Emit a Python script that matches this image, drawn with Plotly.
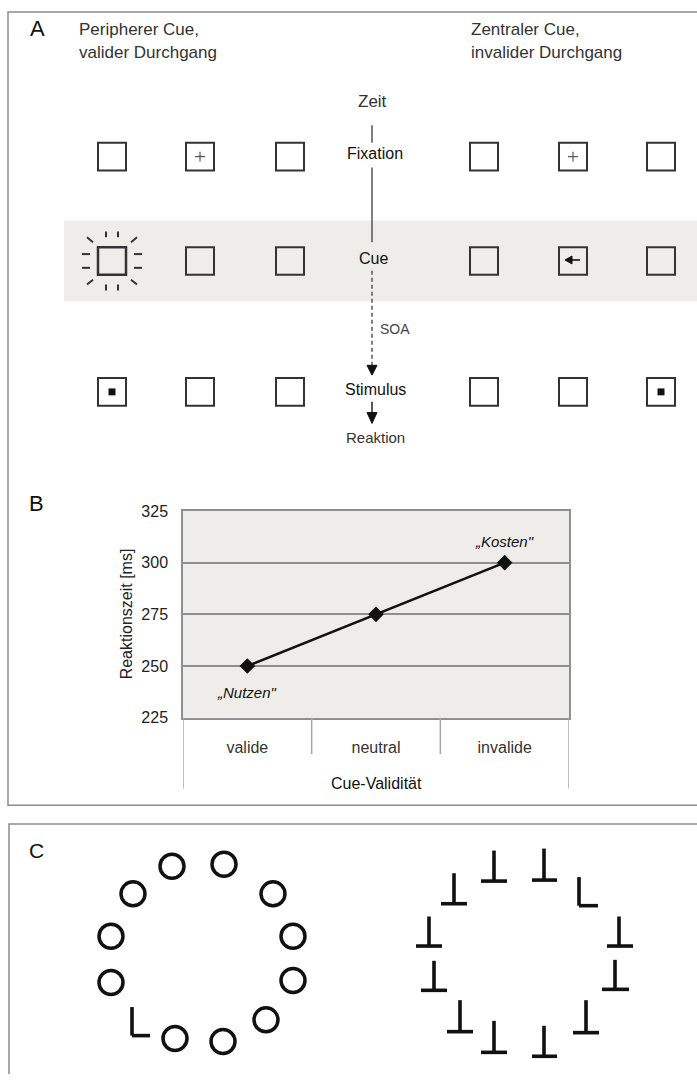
import plotly.graph_objects as go

W, H = 697, 1083

# ---------------- Panel B data ----------------
categories = ["valide", "neutral", "invalide"]
reaction_ms = [250, 275, 300]
y_tick_vals = [225, 250, 275, 300, 325]
y_tick_text = ["225", "250", "275", "300", "325"]
label_benefit = "„Nutzen\""
label_cost = "„Kosten\""
y_title = "Reaktionszeit [ms]"
x_title = "Cue-Validität"

# ---------------- Panel A texts ----------------
title_left = ["Peripherer Cue,", "valider Durchgang"]
title_right = ["Zentraler Cue,", "invalider Durchgang"]
stage_labels = ["Fixation", "Cue", "Stimulus"]

# ---------------- geometry (pixel canvas) ----------------
FONT = "Liberation Sans, Arial, sans-serif"
col_left = [112, 200, 290]
col_right = [484, 573, 661]
row_y = [151, 257, 390]
SQ = 28
TL_X = 372

# panel C geometry
circ_x = [172, 224, 133, 273, 111, 293, 111, 293, 175, 223, 266]
circ_y = [872, 870, 900, 900, 943, 943, 990, 988, 1047, 1050, 1028]
t_items = [(494, 856, 887, 481, 507), (544, 854, 886, 532, 557), (454, 879, 910, 441, 467),
           (429, 923, 953, 416, 442), (619, 923, 953, 607, 633), (434, 968, 998, 421, 447),
           (615, 967, 997, 602, 629), (460, 1008, 1040, 447, 473), (586, 1008, 1041, 573, 599),
           (494, 1029, 1061, 481, 507), (544, 1034, 1065, 532, 557), (579, 883, 912, 579, 598)]
l_left = (132, 1015, 1044, 132, 150)

PLOT_L, PLOT_R, PLOT_T, PLOT_B = 183, 569, 511, 721

fig = go.Figure()
shapes = []
annotations = []

def line(x0, y0, x1, y1, color="#333", width=2, dash=None, xref="x", yref="y", layer="above"):
    d = dict(type="line", x0=x0, y0=y0, x1=x1, y1=y1, xref=xref, yref=yref, layer=layer,
             line=dict(color=color, width=width))
    if dash:
        d["line"]["dash"] = dash
    shapes.append(d)

def rect(x0, y0, x1, y1, color="#333", width=2, fill="rgba(0,0,0,0)", layer="above", xref="x", yref="y"):
    shapes.append(dict(type="rect", x0=x0, y0=y0, x1=x1, y1=y1, xref=xref, yref=yref, layer=layer,
                       line=dict(color=color, width=width), fillcolor=fill))

def path(p, fill="#111", color="#111", width=1):
    shapes.append(dict(type="path", path=p, xref="x", yref="y", fillcolor=fill,
                       line=dict(color=color, width=width), layer="above"))

def text(x, y, s, size=16, color="#222", xanchor="center", yanchor="middle", italic=False, angle=0, xref="x", yref="y"):
    annotations.append(dict(x=x, y=y, xref=xref, yref=yref, text=s, showarrow=False, xanchor=xanchor,
                            yanchor=yanchor, textangle=angle,
                            font=dict(family=FONT, size=size, color=color,
                                      style="italic" if italic else "normal")))

# Frames
BOX_C = "#8c8c8c"
rect(8, 4, W + 10, 810, color=BOX_C, width=1.5)
rect(9, 829, W + 10, H + 10, color=BOX_C, width=1.5)

# gray band (cue row)
rect(64, 216, W + 10, 298, color="rgba(0,0,0,0)", width=0, fill="#eeede9", layer="below")

# Panel A labels
text(37, 21, "A", size=22, color="#111")
text(77, 22, title_left[0], size=17, xanchor="left", color="#333")
text(77, 45, title_left[1], size=17, xanchor="left", color="#333")
text(469, 22, title_right[0], size=17, xanchor="left", color="#333")
text(469, 45, title_right[1], size=17, xanchor="left", color="#333")
text(TL_X, 95, "Zeit", size=17, color="#333")

# squares
for ry in row_y:
    for cx in col_left + col_right:
        w = 2.5 if (ry == row_y[1] and cx == col_left[0]) else 2
        rect(cx - SQ / 2, ry - SQ / 2, cx + SQ / 2, ry + SQ / 2, color="#333", width=w)

# fixation crosses
for cx in (col_left[1], col_right[1]):
    line(cx - 5, row_y[0], cx + 5, row_y[0], color="#555", width=1.2)
    line(cx, row_y[0] - 5, cx, row_y[0] + 5, color="#555", width=1.2)

# peripheral cue rays
cx, cy = col_left[0], row_y[1]
for dx in (-6, 6):
    line(cx + dx, cy - 30, cx + dx, cy - 24, color="#333", width=2)
    line(cx + dx, cy + 24, cx + dx, cy + 30, color="#333", width=2)
for dy in (-7, 7):
    line(cx - 30, cy + dy, cx - 22, cy + dy, color="#333", width=2)
    line(cx + 22, cy + dy, cx + 30, cy + dy, color="#333", width=2)
for sx in (-1, 1):
    for sy in (-1, 1):
        line(cx + sx * 25, cy + sy * 24, cx + sx * 19, cy + sy * 19, color="#333", width=2)

# central cue arrow
ax, ay = col_right[1], row_y[1]
line(ax - 3, ay - 1, ax + 7, ay - 1, color="#111", width=1.6)
path(f"M {ax-8},{ay-1} L {ax-1},{ay-5} L {ax-1},{ay+3} Z")

# stimulus dots
for sx in (col_left[0], col_right[2]):
    rect(sx - 3.5, row_y[2] - 3.5, sx + 3.5, row_y[2] + 3.5, color="#111", width=0, fill="#111")

# timeline
line(TL_X, 119, TL_X, 137, color="#555", width=1.5)
line(TL_X, 162, TL_X, 238, color="#555", width=1.5)
line(TL_X, 267, TL_X, 364, color="#555", width=1.5, dash="4px,3px")
path(f"M {TL_X-5},{363} L {TL_X+5},{363} L {TL_X},{373} Z")
line(TL_X, 400, TL_X, 412, color="#222", width=1.5)
path(f"M {TL_X-5},{411} L {TL_X+5},{411} L {TL_X},{422} Z")
text(375, 148, stage_labels[0], size=16, color="#111")
text(373, 254, stage_labels[1], size=16, color="#111")
text(378, 326, "SOA", size=14, color="#444", xanchor="left")
text(375, 388, stage_labels[2], size=16, color="#111")
text(375, 436, "Reaktion", size=15, color="#333")

# Panel B label
text(36, 503, "B", size=22, color="#111")

# Panel C label
text(36, 856, "C", size=21, color="#111")

# Panel B: chart background, table lines
shapes.append(dict(type="rect", xref="x2 domain", yref="y2 domain", x0=0, x1=1, y0=0, y1=1,
                   fillcolor="#eeede9", line=dict(width=0), layer="below"))
GRID_C = "#8f8f8f"
for xb in (0.5, 1.5):
    line(xb, PLOT_B, xb, 758, color="#a8a8a8", width=1.5, xref="x2")
for xb in (-0.5, 2.5):
    line(xb, PLOT_B, xb, 793, color="#a8a8a8", width=1.5, xref="x2")

# Panel B data trace
fig.add_trace(go.Scatter(x=categories, y=reaction_ms, mode="lines+markers", xaxis="x2", yaxis="y2",
                         line=dict(color="#111", width=2.6),
                         marker=dict(symbol="diamond", size=12, color="#111"),
                         showlegend=False, hoverinfo="skip"))
text(categories[0], 237, label_benefit, size=15, color="#111", italic=True, xref="x2", yref="y2")
text(categories[2], 310, label_cost, size=15, color="#111", italic=True, xref="x2", yref="y2")
text(126, (PLOT_T + PLOT_B) / 2, y_title, size=16, color="#222", angle=-90)
text((PLOT_L + PLOT_R) / 2, 788, x_title, size=16, color="#111")

# Panel C: circles
fig.add_trace(go.Scatter(x=circ_x, y=circ_y, mode="markers", xaxis="x", yaxis="y",
                         marker=dict(symbol="circle-open", size=24, color="#111", line=dict(width=3.5)),
                         showlegend=False, hoverinfo="skip"))
# Panel C: T and L strokes
px, py = [], []
for (sx, yt, yb, bx0, bx1) in t_items + [l_left]:
    px += [sx, sx, None, bx0, bx1, None]
    py += [yt, yb, None, yb, yb, None]
fig.add_trace(go.Scatter(x=px, y=py, mode="lines", xaxis="x", yaxis="y",
                         line=dict(color="#111", width=3.6), showlegend=False, hoverinfo="skip"))

fig.update_layout(
    width=W, height=H, margin=dict(l=0, r=0, t=0, b=0),
    paper_bgcolor="white", plot_bgcolor="rgba(0,0,0,0)",
    xaxis=dict(domain=[0, 1], range=[0, W], visible=False, fixedrange=True),
    yaxis=dict(domain=[0, 1], range=[H, 0], visible=False, fixedrange=True),
    xaxis2=dict(domain=[PLOT_L / W, PLOT_R / W], range=[-0.5, 2.5], anchor="y2", type="category",
                showline=True, mirror=True, linecolor=GRID_C, linewidth=1.5, ticks="",
                showgrid=False, tickfont=dict(family=FONT, size=16, color="#333"),
                ticklabelstandoff=14, fixedrange=True),
    yaxis2=dict(domain=[1 - PLOT_B / H, 1 - PLOT_T / H], range=[225, 325], anchor="x2",
                showline=True, mirror=True, linecolor=GRID_C, linewidth=1.5, ticks="",
                showgrid=True, gridcolor=GRID_C, gridwidth=1.5, zeroline=False,
                tickvals=y_tick_vals, ticktext=y_tick_text,
                tickfont=dict(family=FONT, size=16, color="#222"), ticklabelstandoff=10, fixedrange=True),
    shapes=shapes, annotations=annotations, showlegend=False,
)

fig.write_html("out.html")
